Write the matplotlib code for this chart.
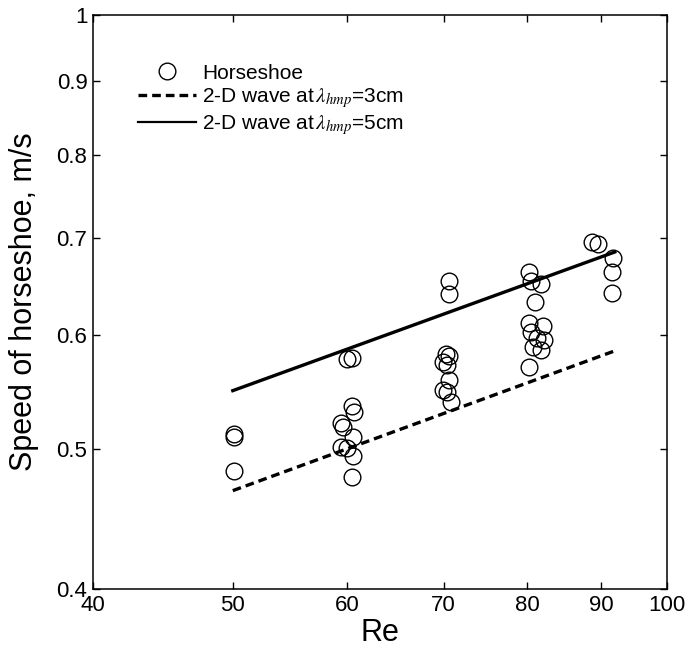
import numpy as np
import matplotlib.pyplot as plt
from matplotlib.ticker import FixedLocator, FixedFormatter, NullLocator

plt.rcParams['font.family'] = ['Liberation Sans', 'DejaVu Sans']
plt.rcParams['mathtext.fontset'] = 'stix'

# horseshoe measurements (Re, speed m/s)
re_pts = [50.1, 50.1, 50.1,
          60.0, 60.5,
          60.5, 60.7, 59.4, 59.6, 60.6, 59.4, 60.0, 60.6, 60.5,
          70.6, 70.6,
          70.3, 70.6, 69.9, 70.4, 70.6, 69.9, 70.4, 70.8,
          80.2, 80.5, 81.8, 81.0, 80.2, 82.1, 80.5, 81.3, 82.2, 80.8, 81.8, 80.2,
          88.7, 89.6, 91.7, 91.6, 91.6]
speed_pts = [0.512, 0.510, 0.483,
             0.577, 0.578,
             0.536, 0.531, 0.521, 0.518, 0.510, 0.502, 0.501, 0.495, 0.478,
             0.654, 0.641,
             0.582, 0.580, 0.575, 0.572, 0.558, 0.550, 0.548, 0.539,
             0.664, 0.654, 0.651, 0.632, 0.612, 0.609, 0.603, 0.597, 0.595, 0.589, 0.586, 0.570,
             0.696, 0.694, 0.679, 0.664, 0.642]

# 2-D wave predictions
re_line = [50, 92]
wave_3cm = [0.468, 0.585]
wave_5cm = [0.549, 0.685]

xticks = [40, 50, 60, 70, 80, 90, 100]
yticks = [0.4, 0.5, 0.6, 0.7, 0.8, 0.9, 1.0]
ytick_labels = ['0.4', '0.5', '0.6', '0.7', '0.8', '0.9', '1']

fig = plt.figure(figsize=(6.86, 6.51), dpi=100)
ax = fig.add_axes([93/686, 62/651, 574/686, 574/651])

ax.plot(re_pts, speed_pts, 'o', ms=12, mfc='none', mec='black', mew=1.0,
        label='Horseshoe')
ax.plot(re_line, wave_3cm, color='black', lw=2.4, dashes=(2.6, 1.5),
        label=r'2-D wave at$\,\lambda_{hmp}$=3cm')
ax.plot(re_line, wave_5cm, color='black', lw=2.4,
        label=r'2-D wave at$\,\lambda_{hmp}$=5cm')

ax.set_xscale('log')
ax.set_yscale('log')
ax.set_xlim(40, 100)
ax.set_ylim(0.4, 1.0)

ax.xaxis.set_major_locator(FixedLocator(xticks))
ax.xaxis.set_major_formatter(FixedFormatter([str(t) for t in xticks]))
ax.xaxis.set_minor_locator(NullLocator())
ax.yaxis.set_major_locator(FixedLocator(yticks))
ax.yaxis.set_major_formatter(FixedFormatter(ytick_labels))
ax.yaxis.set_minor_locator(NullLocator())

ax.tick_params(which='both', direction='in', top=True, right=True,
               length=5, width=1, labelsize=16, pad=4)
for s in ax.spines.values():
    s.set_linewidth(1.1)

ax.set_xlabel('Re', fontsize=22, labelpad=2)
ax.set_ylabel('Speed of horseshoe, m/s', fontsize=22, labelpad=13)

leg = ax.legend(loc='upper left', bbox_to_anchor=(0.078, 0.915), frameon=False,
                fontsize=15, handlelength=2.8, handletextpad=0.3, labelspacing=0.15,
                borderpad=0, borderaxespad=0)
leg.get_lines()[2].set_linewidth(1.6)

fig.savefig('out.png', dpi=100)
